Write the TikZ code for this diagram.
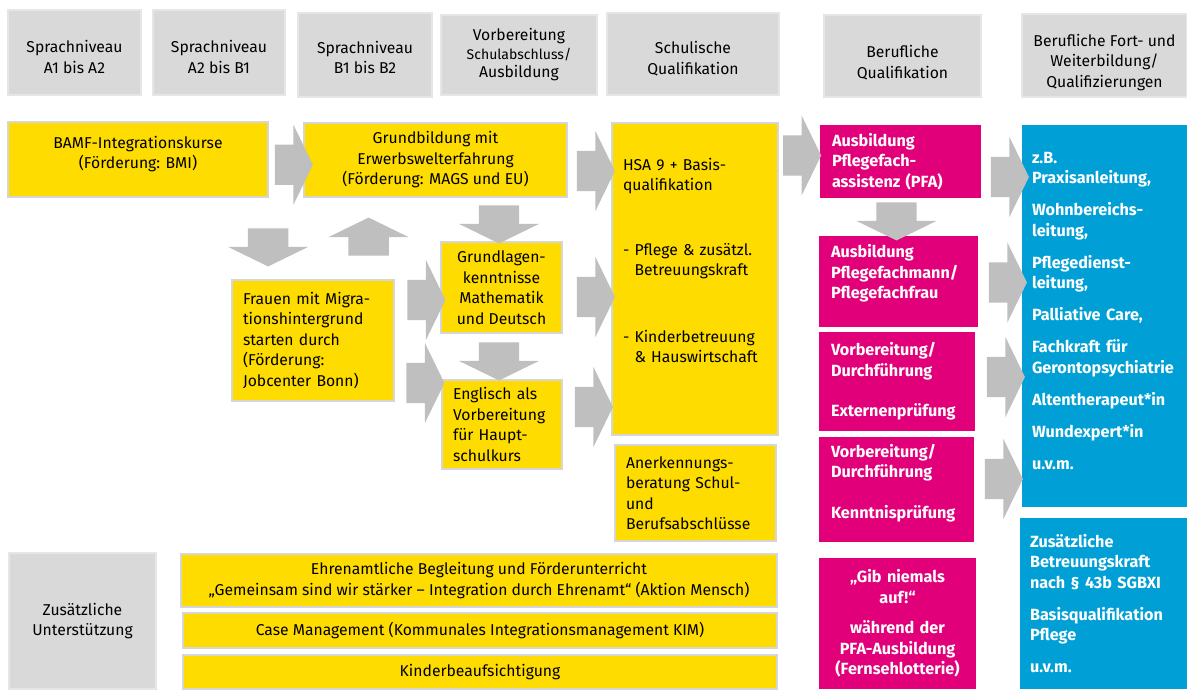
\documentclass[tikz,border=0pt]{standalone}
\usepackage{fontspec}
\setmainfont{Fira Sans}
\usetikzlibrary{positioning,shapes.arrows,calc}

\definecolor{kopfgrau}{HTML}{D9D9D9}
\definecolor{kopfrand}{HTML}{E6E6E6}
\definecolor{gelb}{HTML}{FFDC00}
\definecolor{gelbrand}{HTML}{D6D6D6}
\definecolor{pink}{HTML}{E2007A}
\definecolor{hellblau}{HTML}{00A0D7}
\definecolor{pfeilgrau}{HTML}{BFBFBF}

\newcommand{\normaltext}{\fontsize{15.7}{20.5}\selectfont}
\newcommand{\kleintext}{\fontsize{14}{18.5}\selectfont}
\newcommand{\fetttext}{\fontsize{16.2}{20.5}\selectfont\bfseries}

\tikzset{
    kopf/.style={
        rectangle,
        fill=kopfgrau,
        draw=kopfrand,
        line width=1.2pt,
        align=center,
        inner sep=0pt,
        font=\normaltext
    },
    gbox/.style={
        rectangle,
        fill=gelb,
        draw=gelbrand,
        line width=1.2pt,
        align=center,
        inner sep=0pt,
        font=\normaltext
    },
    glinks/.style={
        gbox,
        align=left,
        inner xsep=11pt
    },
    pbox/.style={
        rectangle,
        fill=pink,
        text=white,
        align=left,
        inner xsep=12pt,
        inner ysep=0pt,
        font=\fetttext
    },
    bbox/.style={
        rectangle,
        fill=hellblau,
        text=white,
        align=left,
        inner xsep=10pt,
        inner ysep=0pt,
        font=\fetttext
    },
    pfeil/.style={
        single arrow,
        fill=pfeilgrau,
        inner xsep=0pt,
        inner ysep=20pt,
        minimum width=80pt,
        minimum height=38pt,
        single arrow head extend=20pt,
        single arrow tip angle=128,
        single arrow head indent=0pt
    },
    rechts/.style={pfeil},
    runter/.style={pfeil, rotate=-90},
    hoch/.style={pfeil, rotate=90}
}

\begin{document}
\begin{tikzpicture}[x=1pt, y=-1pt]
    \useasboundingbox (0,0) rectangle (1187,689);
    % Kopfzeile
    \node (h1) [kopf, minimum width=133pt, minimum height=85pt] at (74.5,52.5) {\mbox{}\\[1pt]Sprachniveau\\A1 bis A2};
    \node (h2) [kopf, minimum width=132pt, minimum height=85pt] at (219,52.5) {\mbox{}\\[1pt]Sprachniveau\\A2 bis B1};
    \node (h3) [kopf, minimum width=134pt, minimum height=84pt] at (365,55) {\mbox{}\\[-3pt]Sprachniveau\\B1 bis B2};
    \node (h4) [kopf, minimum width=156pt, minimum height=80pt] at (519,55) {Vorbereitung\\[-2pt]{\kleintext Schulabschluss/}\\[-2pt]Ausbildung};
    \node (h5) [kopf, minimum width=172pt, minimum height=82pt] at (693,54) {\mbox{}\\[1pt]Schulische\\Qualifikation};
    \node (h6) [kopf, minimum width=157pt, minimum height=82pt] at (902.5,56) {\mbox{}\\[5pt]Berufliche\\Qualifikation};
    \node (h7) [kopf, minimum width=165pt, minimum height=83pt] at (1104.5,55.5) {\mbox{}\\[5pt]Berufliche Fort- und\\Weiterbildung/\\Qualifizierungen};

    % gelbe Kaesten
    \node (bamf) [gbox, minimum width=260pt, minimum height=75pt] at (138,159.5) {BAMF-Integrationskurse\\(Förderung: BMI)\\[-6.5pt]\mbox{}};
    \node (grund) [gbox, minimum width=263pt, minimum height=74pt] at (435.5,160) {Grundbildung mit\\Erwerbswelterfahrung\\(Förderung: MAGS und EU)};
    \node (frauen) [glinks, text width=140pt, minimum height=121pt] at (313,340.5) {Frauen mit Migra-\\tionshintergrund\\starten durch\\(Förderung:\\Jobcenter Bonn)};
    \node (grundl) [gbox, minimum width=121pt, minimum height=91pt] at (501.5,287.5) {Grundlagen-\\kenntnisse\\Mathematik\\und Deutsch};
    \node (engl) [glinks, text width=98pt, minimum height=89pt] at (502,424.5) {Englisch als\\Vorbereitung\\für Haupt-\\schulkurs};
    \node (hsa) [glinks, text width=144pt, minimum height=312pt] at (695,279) {HSA 9 + Basis-\\qualifikation\\[44pt]- Pflege \& zusätzl.\\\hphantom{- }Betreuungskraft\\[46pt]- Kinderbetreuung\\\hphantom{- }\& Hauswirtschaft\\[17pt]\mbox{}};
    \node (anerk) [glinks, text width=139pt, minimum height=96pt] at (695.5,493) {Anerkennungs-\\beratung Schul-\\und\\Berufsabschlüsse};

    % pinke Kaesten
    \node (pfa) [pbox, text width=137pt, minimum height=73pt] at (900.5,161.5) {Ausbildung\\Pflegefach-\\assistenz (PFA)};
    \node (pfm) [pbox, text width=135pt, minimum height=91pt] at (898.5,281.5) {Ausbildung\\Pflegefachmann/\\Pflegefachfrau\\[-0.5pt]\mbox{}};
    \node (ext) [pbox, text width=132pt, minimum height=99pt] at (897,381.5) {Vorbereitung/\\Durchführung\\[20pt]Externenprüfung};
    \node (kenn) [pbox, text width=131pt, minimum height=105pt] at (896.5,489.5) {Vorbereitung/\\Durchführung\\[20pt]Kenntnisprüfung\\[-3.5pt]\mbox{}};
    \node (gib) [pbox, align=center, text width=133pt, minimum height=131pt] at (897.5,623.5) {„Gib niemals\\auf!“\\[10pt]während der\\PFA-Ausbildung\\(Fernsehlotterie)};

    % blaue Kaesten
    \node (blau1) [bbox, text width=145pt, minimum height=382pt] at (1104.5,316) {z.B.\\Praxisanleitung,\\[11.5pt]Wohnbereichs-\\leitung,\\[11.5pt]Pflegedienst-\\leitung,\\[11.5pt]Palliative Care,\\[11.5pt]Fachkraft für\\Gerontopsychiatrie\\[11.5pt]Altentherapeut*in\\[11.5pt]Wundexpert*in\\[11.5pt]u.v.m.\\[-9.5pt]\mbox{}};
    \node (blau2) [bbox, text width=147pt, minimum height=171pt] at (1103.5,603.5) {Zusätzliche\\Betreuungskraft\\nach § 43b SGBXI\\[11.5pt]Basisqualifikation\\Pflege\\[11.5pt]u.v.m.};

    % Unterstuetzung
    \node (zus) [kopf, minimum width=147pt, minimum height=136pt] at (82.5,621) {Zusätzliche\\Unterstützung};
    \node (ehren) [gbox, minimum width=596pt, minimum height=53pt] at (479,580.5) {Ehrenamtliche Begleitung und Förderunterricht\\„Gemeinsam sind wir stärker – Integration durch Ehrenamt“ (Aktion Mensch)};
    \node (case) [gbox, minimum width=594pt, minimum height=35pt] at (480,630.5) {Case Management (Kommunales Integrationsmanagement KIM)};
    \node (kinder) [gbox, minimum width=594pt, minimum height=34pt] at (480,672) {Kinderbeaufsichtigung};

    % Pfeile
    \node (p1) [rechts] at ($(bamf.east)!.5!(grund.west)+(3,5)$) {};
    \node (p2) [rechts] at ($(grund.east)!.5!(hsa.west |- grund.east)+(1.5,11)$) {};
    \node (p3) [rechts] at ($(frauen.east |- grundl.west)!.5!(grundl.west)+(4,12.5)$) {};
    \node (p4) [rechts] at ($(frauen.east |- engl.west)!.5!(engl.west)+(2.5,-41.5)$) {};
    \node (p5) [rechts] at ($(grundl.east)!.5!(hsa.west |- grundl.east)+(4,9.5)$) {};
    \node (p6) [rechts] at ($(engl.east)!.5!(hsa.west |- engl.east)+(2,-17.5)$) {};
    \node (p7) [rechts] at ($(hsa.east |- pfa.west)!.5!(pfa.west)+(-2,-6)$) {};
    \node (p8) [rechts] at ($(pfa.east)!.5!(blau1.west |- pfa.east)+(3.5,15.5)$) {};
    \node (p9) [rechts] at ($(pfm.east)!.5!(blau1.west |- pfm.east)+(3,1)$) {};
    \node (p10) [rechts] at ($(ext.east)!.5!(blau1.west |- ext.east)+(2.5,-4.5)$) {};
    \node (p11) [rechts] at ($(kenn.east)!.5!(blau1.west |- kenn.east)+(1,-10.5)$) {};
    \node (p12) [runter] at ($(grundl.north |- grund.south)!.5!(grundl.north)+(-2.5,0)$) {};
    \node (p13) [runter] at ($(grundl.south)!.5!(engl.north)+(-2.75,0)$) {};
    \node (p14) [runter] at ($(bamf.south east)!.5!(bamf.south east |- frauen.north)+(-0.5,4)$) {};
    \node (p15) [hoch] at ($(frauen.north east)!.5!(frauen.north east |- grund.south)+(-26,3)$) {};
    \node (p16) [runter] at ($(pfa.south)!.5!(pfm.north)+(-3,-0.5)$) {};
\end{tikzpicture}
\end{document}
